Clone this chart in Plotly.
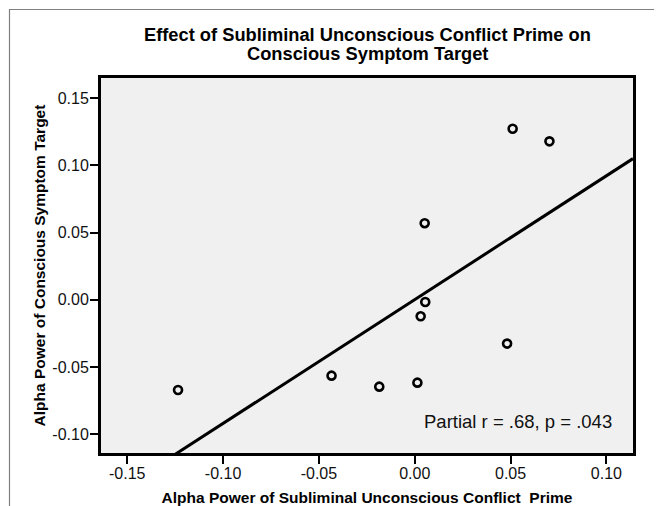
import plotly.graph_objects as go

# ---- data ----
prime_alpha = [0.0511, 0.0703, 0.0052, 0.0055, 0.0031, 0.0482, -0.1235, -0.0434, -0.0185, 0.0014]
target_alpha = [0.1272, 0.1178, 0.0570, -0.0016, -0.0122, -0.0325, -0.0670, -0.0563, -0.0645, -0.0615]
fit_slope = 0.92
fit_intercept = 0.0002
x_range = [-0.1637, 0.1139]
y_range = [-0.1138, 0.1649]
x_tickvals = [-0.15, -0.10, -0.05, 0.00, 0.05, 0.10]
x_ticktext = ["-0.15", "-0.10", "-0.05", "0.00", "0.05", "0.10"]
y_tickvals = [-0.10, -0.05, 0.00, 0.05, 0.10, 0.15]
y_ticktext = ["-0.10", "-0.05", "0.00", "0.05", "0.10", "0.15"]
title_lines = ["Effect of Subliminal Unconscious Conflict Prime on",
               "Conscious Symptom Target"]
x_title = "Alpha Power of Subliminal Unconscious Conflict  Prime"
y_title = "Alpha Power of Conscious Symptom Target"
stat_text = "Partial r = .68, p = .043"

# page body has an 8px margin, so the figure is 8px smaller
W, H = 654, 498
ML, MR, MT, MB = 93, 29, 70, 53
FONT = "Liberation Sans, Arial, sans-serif"

fit_x = [x_range[0], x_range[1]]
fit_y = [fit_intercept + fit_slope * v for v in fit_x]

fig = go.Figure()
fig.add_trace(go.Scatter(x=fit_x, y=fit_y, mode="lines",
                         line=dict(color="black", width=3), hoverinfo="skip",
                         showlegend=False))
fig.add_trace(go.Scatter(x=prime_alpha, y=target_alpha, mode="markers",
                         marker=dict(symbol="circle-open", size=8, color="black",
                                     line=dict(color="black", width=2.6)),
                         showlegend=False))

pw = W - ML - MR
ph = H - MT - MB
def px_to_paper_x(px):
    return (px - ML) / pw
def py_to_paper_y(py):
    return (H - MB - py) / ph

# outer gray frame
fig.add_shape(type="rect", xref="paper", yref="paper",
              x0=px_to_paper_x(1.5), x1=px_to_paper_x(700),
              y0=py_to_paper_y(560), y1=py_to_paper_y(1.5),
              line=dict(color="#808080", width=1.2), fillcolor="rgba(0,0,0,0)", layer="below")

# title as two lines
for line, cy in zip(title_lines, [27, 45]):
    fig.add_annotation(text="<b>%s</b>" % line, xref="paper", yref="paper",
                       x=0.5, y=py_to_paper_y(cy), xanchor="center", yanchor="middle",
                       showarrow=False,
                       font=dict(family=FONT, size=18.3, color="black"))

fig.add_annotation(text=stat_text, xref="paper", yref="paper",
                   x=px_to_paper_x(606), y=py_to_paper_y(413),
                   xanchor="right", yanchor="middle", showarrow=False,
                   font=dict(family=FONT, size=18.5, color="#111"))

fig.update_layout(
    width=W, height=H,
    margin=dict(l=ML, r=MR, t=MT, b=MB, autoexpand=False),
    paper_bgcolor="white", plot_bgcolor="#f0f0f0",
    font=dict(family=FONT, color="black"),
)
fig.update_xaxes(range=x_range, tickvals=x_tickvals, ticktext=x_ticktext,
                 showgrid=False, zeroline=False, showline=True, mirror=True,
                 linecolor="black", linewidth=3, ticks="outside", ticklen=8,
                 tickwidth=1.5, tickcolor="black", ticklabelstandoff=-4,
                 tickfont=dict(family=FONT, size=16, color="#111"),
                 title=dict(text=x_title, standoff=14,
                            font=dict(family=FONT, size=15.5, color="black", weight="bold")),
                 automargin=False)
fig.update_yaxes(range=y_range, tickvals=y_tickvals, ticktext=y_ticktext,
                 showgrid=False, zeroline=False, showline=True, mirror=True,
                 linecolor="black", linewidth=3, ticks="outside", ticklen=8,
                 tickwidth=1.5, tickcolor="black", ticklabelstandoff=-2,
                 tickfont=dict(family=FONT, size=16, color="#111"),
                 title=dict(text=y_title, standoff=3,
                            font=dict(family=FONT, size=15.5, color="black", weight="bold")),
                 automargin=False)

fig.write_html("out.html")
